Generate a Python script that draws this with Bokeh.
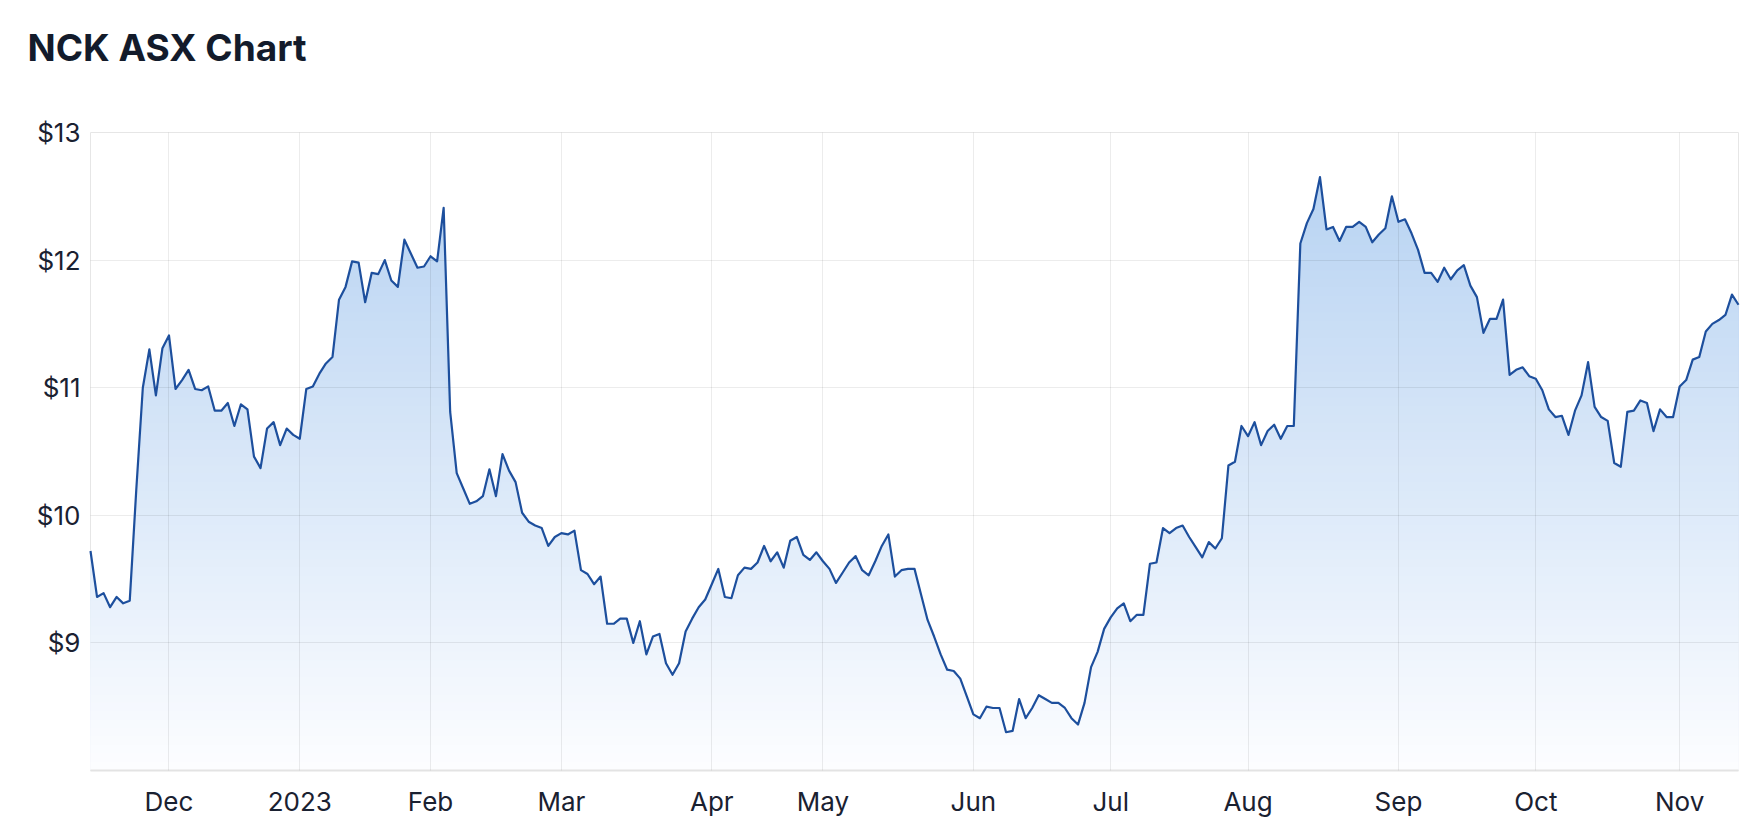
import numpy as np
import pandas as pd
from bokeh.plotting import figure
from bokeh.models import FixedTicker, Range1d, Title
from bokeh.embed import file_html
from bokeh.resources import INLINE

# ---------------- data ----------------
title_text = "NCK ASX Chart"

first_day = "2022-11-15"
last_day = "2023-11-14"
asx_holidays = ["2022-12-26", "2022-12-27", "2023-01-02", "2023-01-26",
                "2023-04-07", "2023-04-10", "2023-04-25", "2023-06-12"]

prices = [
    9.72, 9.36, 9.39, 9.28, 9.36, 9.31, 9.33, 10.20, 11.00, 11.30,
    10.94, 11.31, 11.41, 10.99, 11.06, 11.14, 10.99, 10.98, 11.01, 10.82,
    10.82, 10.88, 10.70, 10.87, 10.83, 10.46, 10.37, 10.68, 10.73, 10.55,
    10.68, 10.63, 10.60, 10.99, 11.01, 11.11, 11.19, 11.24, 11.69, 11.79,
    11.99, 11.98, 11.67, 11.90, 11.89, 12.00, 11.84, 11.79, 12.16, 12.05,
    11.94, 11.95, 12.03, 11.99, 12.41, 10.81, 10.33, 10.21, 10.09, 10.11,
    10.15, 10.36, 10.15, 10.48, 10.35, 10.26, 10.02, 9.95, 9.92, 9.90,
    9.76, 9.83, 9.86, 9.85, 9.88, 9.57, 9.54, 9.46, 9.52, 9.15,
    9.15, 9.19, 9.19, 9.00, 9.17, 8.91, 9.05, 9.07, 8.84, 8.75,
    8.84, 9.09, 9.19, 9.28, 9.34, 9.46, 9.58, 9.36, 9.35, 9.53,
    9.59, 9.58, 9.63, 9.76, 9.64, 9.71, 9.59, 9.80, 9.83, 9.69,
    9.65, 9.71, 9.64, 9.58, 9.47, 9.55, 9.63, 9.68, 9.57, 9.53,
    9.64, 9.76, 9.85, 9.52, 9.57, 9.58, 9.58, 9.38, 9.18, 9.05,
    8.91, 8.79, 8.78, 8.72, 8.58, 8.44, 8.41, 8.50, 8.49, 8.49,
    8.30, 8.31, 8.56, 8.41, 8.49, 8.59, 8.56, 8.53, 8.53, 8.49,
    8.41, 8.36, 8.53, 8.81, 8.93, 9.11, 9.20, 9.27, 9.31, 9.17,
    9.22, 9.22, 9.62, 9.63, 9.90, 9.86, 9.90, 9.92, 9.83, 9.75,
    9.67, 9.79, 9.74, 9.82, 10.39, 10.42, 10.70, 10.62, 10.73, 10.55,
    10.66, 10.71, 10.60, 10.70, 10.70, 12.13, 12.29, 12.40, 12.65, 12.24,
    12.26, 12.15, 12.26, 12.26, 12.30, 12.26, 12.14, 12.20, 12.25, 12.50,
    12.30, 12.32, 12.21, 12.08, 11.90, 11.90, 11.83, 11.94, 11.85, 11.92,
    11.96, 11.80, 11.71, 11.43, 11.54, 11.54, 11.69, 11.10, 11.14, 11.16,
    11.09, 11.07, 10.98, 10.83, 10.77, 10.78, 10.63, 10.82, 10.94, 11.20,
    10.85, 10.77, 10.74, 10.41, 10.38, 10.81, 10.82, 10.90, 10.88, 10.66,
    10.83, 10.77, 10.77, 11.01, 11.06, 11.22, 11.24, 11.44, 11.50, 11.53,
    11.57, 11.73, 11.65,
]

month_labels = ["Dec", "2023", "Feb", "Mar", "Apr", "May", "Jun",
                "Jul", "Aug", "Sep", "Oct", "Nov"]
y_ticks = [9, 10, 11, 12, 13]
y_labels = ["$9", "$10", "$11", "$12", "$13"]
y_min, y_max = 8, 13

# ---------------- trading-day axis ----------------
dates = pd.bdate_range(first_day, last_day)
dates = dates[~dates.isin(pd.to_datetime(asx_holidays))][:len(prices)]
x = np.arange(len(prices))
y = np.array(prices, dtype=float)

month_start_idx = [i for i in range(1, len(dates)) if dates[i].month != dates[i - 1].month]
month_start_idx = month_start_idx[:len(month_labels)]

# ---------------- figure ----------------
W, H = 1746, 830
p = figure(width=W, height=H, output_backend="svg", toolbar_location=None,
           x_range=Range1d(0, len(prices) - 1), y_range=Range1d(y_min, y_max),
           min_border_left=90, min_border_right=8, min_border_top=132,
           min_border_bottom=60, background_fill_color="white",
           border_fill_color="white")
p.outline_line_color = "#e6e6e6"
p.outline_line_width = 1

# real title (outermost in the top panel)
p.title = Title(text=title_text, align="left", vertical_align="top",
                offset=-63, standoff=0, text_font="Inter",
                text_font_style="bold", text_font_size="37px",
                text_color="#131b2b")
# blank spacer between the title and the plot frame
p.add_layout(Title(text=" ", align="left", vertical_align="top",
                   standoff=57, text_font_size="2px", text_color="white"), "above")

# gradient fill emulated with stacked bands (drawn top band first)
top_val = float(y.max())
n_bands = 70
c_top = np.array([184, 211, 242])
c_bot = np.array([252, 253, 255])
edges = np.linspace(y_min, top_val, n_bands + 1)
for k in range(n_bands - 1, -1, -1):
    frac = (0.5 * (edges[k] + edges[k + 1]) - y_min) / (top_val - y_min)
    c = c_bot + (c_top - c_bot) * frac
    col = "#%02x%02x%02x" % tuple(int(round(v)) for v in c)
    p.varea(x=x, y1=np.full_like(y, y_min), y2=np.minimum(y, edges[k + 1]),
            fill_color=col, fill_alpha=1.0)

line_r = p.line(x, y, line_color="#1d4f9d", line_width=2.2, line_join="round")
line_r.level = "annotation"

# grids
for g in (p.xgrid, p.ygrid):
    g.grid_line_color = "black"
    g.grid_line_alpha = 0.075
    g.grid_line_width = 1
    g.level = "guide"

# x axis
p.xaxis.ticker = FixedTicker(ticks=month_start_idx)
p.xaxis.major_label_overrides = {int(i): lab for i, lab in zip(month_start_idx, month_labels)}
p.xaxis.axis_line_color = "#e3e3e3"
p.xaxis.axis_line_width = 2
p.xaxis.major_tick_line_color = None
p.xaxis.minor_tick_line_color = None
p.xaxis.major_label_standoff = 9
p.xaxis.major_label_text_font = "Inter"
p.xaxis.major_label_text_font_size = "26px"
p.xaxis.major_label_text_color = "#1a2131"

# y axis
p.yaxis.ticker = FixedTicker(ticks=y_ticks)
p.yaxis.major_label_overrides = {t: lab for t, lab in zip(y_ticks, y_labels)}
p.yaxis.axis_line_color = None
p.yaxis.major_tick_line_color = None
p.yaxis.minor_tick_line_color = None
p.yaxis.major_tick_out = 0
p.yaxis.major_label_standoff = 10
p.yaxis.major_label_text_font = "Inter"
p.yaxis.major_label_text_font_size = "26px"
p.yaxis.major_label_text_color = "#1a2131"

open("out.html", "w").write(file_html(p, INLINE))
